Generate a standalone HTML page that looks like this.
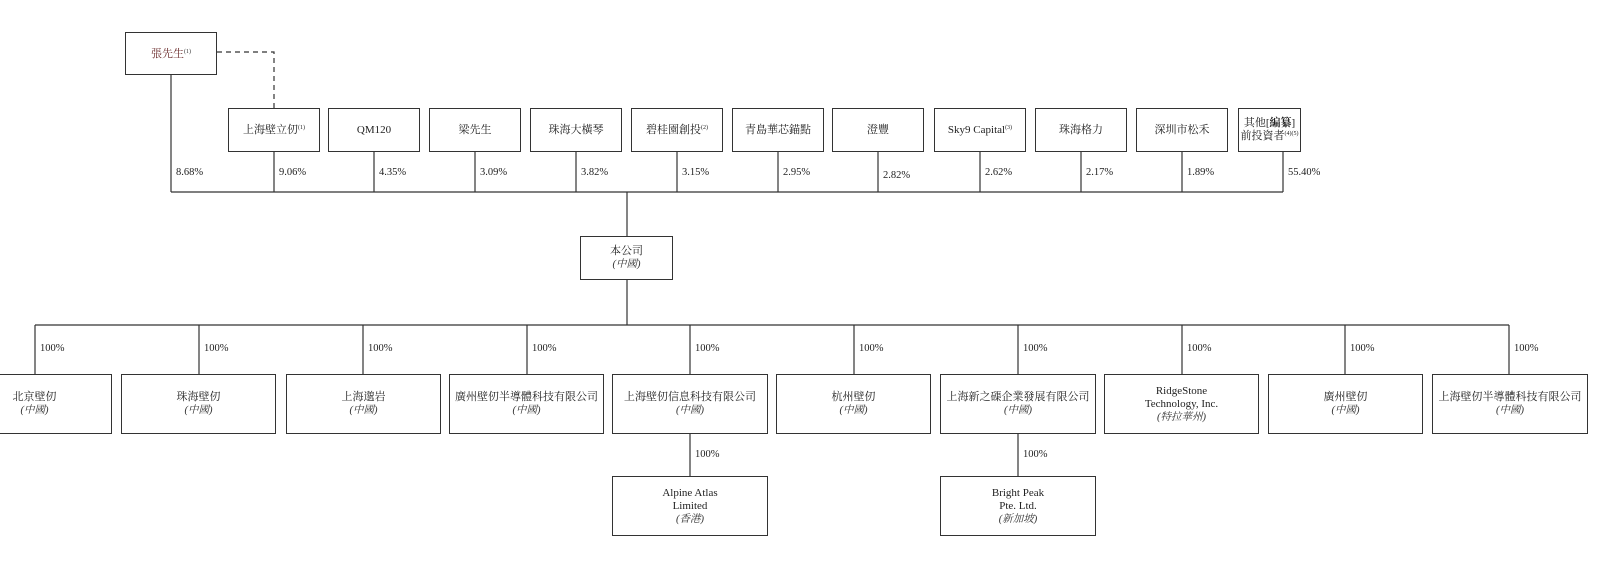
<!DOCTYPE html>
<html><head><meta charset="utf-8">
<style>
body{margin:0;background:#fff;width:1611px;height:579px;overflow:hidden;position:relative;font-family:"Liberation Serif","Noto Serif CJK SC",serif;color:#222}
.b{position:absolute;border:1.3px solid #333;box-sizing:border-box;display:flex;flex-direction:column;align-items:center;justify-content:center;text-align:center;font-size:11px;line-height:14px;background:#fff;white-space:nowrap}
.b i{font-style:italic;font-size:10.5px;color:#333}
.p{position:absolute;font-size:10.5px;line-height:12px}
sup{font-size:6px;vertical-align:4px;line-height:0}
svg{position:absolute;left:0;top:0}
</style></head><body>
<svg width="1611" height="579">
<g stroke="#333" stroke-width="1.2" fill="none">
<path d="M217 52 H274 V108" stroke-dasharray="5,4"/>
<path d="M171 75 V192 M274 152 V192 M374 152 V192 M475 152 V192 M576 152 V192 M677 152 V192 M778 152 V192 M878 152 V192 M980 152 V192 M1081 152 V192 M1182 152 V192 M1283 152 V192"/>
<path d="M171 192 H1283"/>
<path d="M627 192 V236 M627 280 V325"/>
<path d="M35 325 H1509"/>
<path d="M35 325 V374 M199 325 V374 M363 325 V374 M527 325 V374 M690 325 V374 M854 325 V374 M1018 325 V374 M1182 325 V374 M1345 325 V374 M1509 325 V374"/>
<path d="M690 434 V476 M1018 434 V476"/>
</g></svg>
<div class="b" style="left:125px;top:32px;width:92px;height:43px;color:#6b2c2c"><span>張先生<sup style="color:#333">(1)</sup></span></div>
<div class="b" style="left:228px;top:108px;width:92px;height:44px"><span>上海壁立仞<sup>(1)</sup></span></div>
<div class="b" style="left:328px;top:108px;width:92px;height:44px"><span>QM120</span></div>
<div class="b" style="left:429px;top:108px;width:92px;height:44px"><span>梁先生</span></div>
<div class="b" style="left:530px;top:108px;width:92px;height:44px"><span>珠海大橫琴</span></div>
<div class="b" style="left:631px;top:108px;width:92px;height:44px"><span>碧桂園創投<sup>(2)</sup></span></div>
<div class="b" style="left:732px;top:108px;width:92px;height:44px"><span>青島華芯錨點</span></div>
<div class="b" style="left:832px;top:108px;width:92px;height:44px"><span>澄豐</span></div>
<div class="b" style="left:934px;top:108px;width:92px;height:44px"><span>Sky9 Capital<sup>(3)</sup></span></div>
<div class="b" style="left:1035px;top:108px;width:92px;height:44px"><span>珠海格力</span></div>
<div class="b" style="left:1136px;top:108px;width:92px;height:44px"><span>深圳市松禾</span></div>
<div class="b" style="left:1238px;top:108px;width:63px;height:44px;line-height:13px"><span>其他[<b>編纂</b>]</span><span>前投資者<sup>(4)(5)</sup></span></div>
<div class="p" style="left:176px;top:167px">8.68%</div>
<div class="p" style="left:279px;top:167px">9.06%</div>
<div class="p" style="left:379px;top:167px">4.35%</div>
<div class="p" style="left:480px;top:167px">3.09%</div>
<div class="p" style="left:581px;top:167px">3.82%</div>
<div class="p" style="left:682px;top:167px">3.15%</div>
<div class="p" style="left:783px;top:167px">2.95%</div>
<div class="p" style="left:883px;top:170px">2.82%</div>
<div class="p" style="left:985px;top:167px">2.62%</div>
<div class="p" style="left:1086px;top:167px">2.17%</div>
<div class="p" style="left:1187px;top:167px">1.89%</div>
<div class="p" style="left:1288px;top:167px">55.40%</div>
<div class="b" style="left:580px;top:236px;width:93px;height:44px"><span>本公司</span><i>(中國)</i></div>
<div class="p" style="left:40px;top:343px">100%</div>
<div class="p" style="left:204px;top:343px">100%</div>
<div class="p" style="left:368px;top:343px">100%</div>
<div class="p" style="left:532px;top:343px">100%</div>
<div class="p" style="left:695px;top:343px">100%</div>
<div class="p" style="left:859px;top:343px">100%</div>
<div class="p" style="left:1023px;top:343px">100%</div>
<div class="p" style="left:1187px;top:343px">100%</div>
<div class="p" style="left:1350px;top:343px">100%</div>
<div class="p" style="left:1514px;top:343px">100%</div>
<div class="b" style="left:-43px;top:374px;width:155px;height:60px"><span>北京壁仞</span><i>(中國)</i></div>
<div class="b" style="left:121px;top:374px;width:155px;height:60px"><span>珠海壁仞</span><i>(中國)</i></div>
<div class="b" style="left:286px;top:374px;width:155px;height:60px"><span>上海邈岩</span><i>(中國)</i></div>
<div class="b" style="left:449px;top:374px;width:155px;height:60px"><span>廣州壁仞半導體科技有限公司</span><i>(中國)</i></div>
<div class="b" style="left:612px;top:374px;width:156px;height:60px"><span>上海壁仞信息科技有限公司</span><i>(中國)</i></div>
<div class="b" style="left:776px;top:374px;width:155px;height:60px"><span>杭州壁仞</span><i>(中國)</i></div>
<div class="b" style="left:940px;top:374px;width:156px;height:60px"><span>上海新之磲企業發展有限公司</span><i>(中國)</i></div>
<div class="b" style="left:1104px;top:374px;width:155px;height:60px;line-height:13px"><span>RidgeStone</span><span>Technology, Inc.</span><i>(特拉華州)</i></div>
<div class="b" style="left:1268px;top:374px;width:155px;height:60px"><span>廣州壁仞</span><i>(中國)</i></div>
<div class="b" style="left:1432px;top:374px;width:156px;height:60px"><span>上海壁仞半導體科技有限公司</span><i>(中國)</i></div>
<div class="p" style="left:695px;top:449px">100%</div>
<div class="p" style="left:1023px;top:449px">100%</div>
<div class="b" style="left:612px;top:476px;width:156px;height:60px;line-height:13px"><span>Alpine Atlas</span><span>Limited</span><i>(香港)</i></div>
<div class="b" style="left:940px;top:476px;width:156px;height:60px;line-height:13px"><span>Bright Peak</span><span>Pte. Ltd.</span><i>(新加坡)</i></div>
</body></html>
